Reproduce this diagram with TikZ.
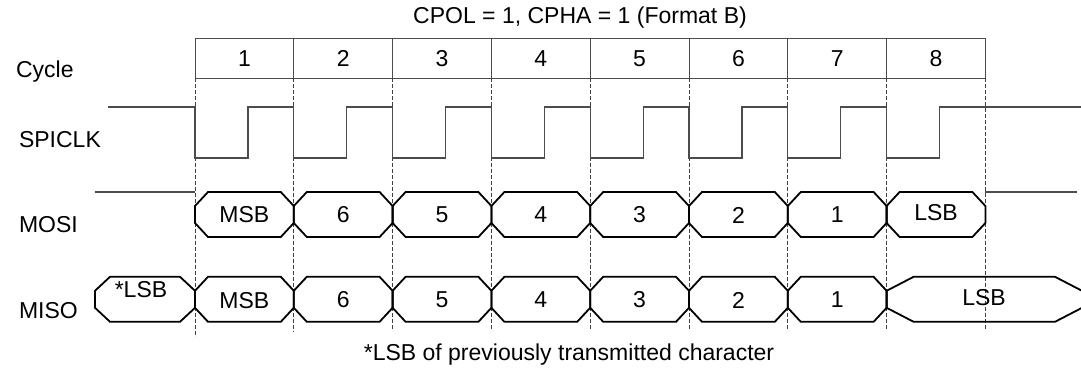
\documentclass[tikz,border=0pt]{standalone}
\usepackage{fontspec}
\setmainfont{Liberation Sans}
\usepackage{tikz}
\usepackage{xcolor}
\tikzstyle{cyclecell} = [draw=black!70, line width=0.5pt, rectangle, inner sep=0pt, outer sep=0pt, minimum width=49.4pt, minimum height=20pt]
\tikzstyle{bitline} = [draw=black, line width=0.9pt, line join=miter]
\tikzstyle{wave} = [draw=black!70, line width=0.55pt]
\tikzstyle{cycleline} = [draw=black!75, line width=0.5pt, dash pattern=on 2pt off 1pt]
\tikzstyle{sig} = [anchor=west]
% one data bit: left x, right x, middle y, width of the bevel
\newcommand{\bitbox}[4]{%
  \draw[bitline] (#1,#3-8.5) -- ({#1+#4},#3-22.5) -- ({#2-#4},#3-22.5) -- (#2,#3-8.5)
    -- (#2,#3+8.5) -- ({#2-#4},#3+22.5) -- ({#1+#4},#3+22.5) -- (#1,#3+8.5) -- cycle;}

\begin{document}
\begin{tikzpicture}[x=0.5pt, y=-0.5pt, font=\fontsize{11.5}{13}\selectfont]
\clip (0,0) rectangle (1081,369);
\fill[white] (0,0) rectangle (1081,369);

\node (title) at (580,18) {CPOL = 1, CPHA = 1 (Format B)};

% cycle numbers
\node[cyclecell] (c1) at (244.4,58.5) {1};
\node[cyclecell, right=0pt] (c2) at (c1.east) {2};
\node[cyclecell, right=0pt] (c3) at (c2.east) {3};
\node[cyclecell, right=0pt] (c4) at (c3.east) {4};
\node[cyclecell, right=0pt] (c5) at (c4.east) {5};
\node[cyclecell, right=0pt] (c6) at (c5.east) {6};
\node[cyclecell, right=0pt] (c7) at (c6.east) {7};
\node[cyclecell, right=0pt] (c8) at (c7.east) {8};

\node[sig] (cyc) at (9,72) {Cycle};
\node[sig] (clk) at (12,140) {SPICLK};
\node[sig] (mosi) at (12,225) {MOSI};
\node[sig] (miso) at (12,311) {MISO};

% edges of the cycles
\draw[cycleline] (c1.south west) -- ++(0,258);
\draw[cycleline] (c2.south west) -- ++(0,253);
\draw[cycleline] (c3.south west) -- ++(0,250);
\draw[cycleline] (c4.south west) -- ++(0,250);
\draw[cycleline] (c5.south west) -- ++(0,250);
\draw[cycleline] (c6.south west) -- ++(0,250);
\draw[cycleline] (c7.south west) -- ++(0,250);
\draw[cycleline] (c8.south west) -- ++(0,250);
\draw[cycleline] (c8.south east) -- ++(0,250);

% clock
\draw[wave] (108,107) -| (195,158) -| (248,107) -| (293.8,158) -| (346.8,107)
  -| (392.6,158) -| (445.6,107) -| (491.4,158) -| (544.4,107)
  -| (590.2,158) -| (643.2,107) -| (689,158) -| (742,107)
  -| (787.8,158) -| (840.8,107) -| (886.6,158) -| (939.6,107) -- (1081,107);

% MOSI
\draw[wave] (95,192) -- (195,192);
\draw[wave] (985.4,192) -- (1077,192);
\bitbox{195}{293.8}{214.5}{13}
\bitbox{293.8}{392.6}{214.5}{13}
\bitbox{392.6}{491.4}{214.5}{13}
\bitbox{491.4}{590.2}{214.5}{13}
\bitbox{590.2}{689}{214.5}{13}
\bitbox{689}{787.8}{214.5}{13}
\bitbox{787.8}{886.6}{214.5}{13}
\bitbox{886.6}{985.4}{214.5}{13}
\node (mo1) at (244.4,215) {MSB};
\node (mo2) at (343.2,215) {6};
\node (mo3) at (442,215) {5};
\node (mo4) at (540.8,215) {4};
\node (mo5) at (639.6,215) {3};
\node (mo6) at (738.4,215) {2};
\node (mo7) at (837.2,215) {1};
\node (mo8) at (936,213) {LSB};

% MISO
\bitbox{95}{195}{299.3}{15}
\bitbox{195}{293.8}{299.3}{13}
\bitbox{293.8}{392.6}{299.3}{13}
\bitbox{392.6}{491.4}{299.3}{13}
\bitbox{491.4}{590.2}{299.3}{13}
\bitbox{590.2}{689}{299.3}{13}
\bitbox{689}{787.8}{299.3}{13}
\bitbox{787.8}{886.6}{299.3}{13}
\bitbox{886.6}{1082}{299.3}{27}
\node (mi0) at (141,290) {*LSB};
\node (mi1) at (244.4,301) {MSB};
\node (mi2) at (343.2,300) {6};
\node (mi3) at (442,300) {5};
\node (mi4) at (540.8,300) {4};
\node (mi5) at (639.6,300) {3};
\node (mi6) at (738.4,300) {2};
\node (mi7) at (837.2,300) {1};
\node (mi8) at (984,298) {LSB};

\node (note) at (569,355) {*LSB of previously transmitted character};
\end{tikzpicture}
\end{document}
